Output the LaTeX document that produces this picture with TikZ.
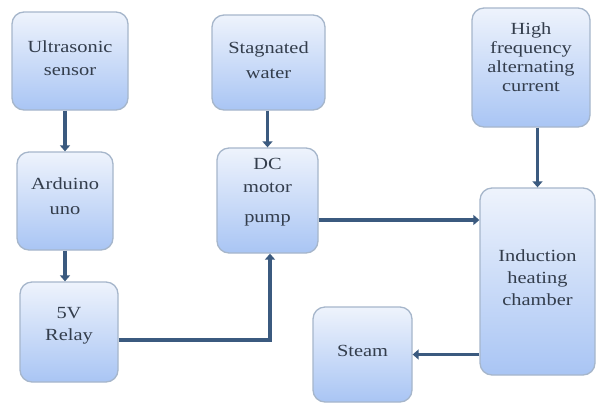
\documentclass[tikz,border=0pt]{standalone}
\usepackage{fontspec}
\setmainfont[FakeStretch=1.2]{Liberation Serif}
\usetikzlibrary{arrows.meta,calc}
\definecolor{boxtop}{HTML}{EEF3FC}
\definecolor{boxbot}{HTML}{A9C5F4}
\definecolor{boxline}{HTML}{A6B6CB}
\definecolor{arr}{HTML}{3B5A7F}
\definecolor{txt}{HTML}{333D4C}
\begin{document}
\begin{tikzpicture}[x=1pt,y=-1pt,
  blk/.style={draw=boxline, line width=1.3pt, rounded corners=12pt,
    top color=boxtop, bottom color=boxbot, inner sep=0pt},
  lbl/.style={align=center, text=txt, inner sep=0pt, font=\fontsize{17}{23}\selectfont},
  conn/.style={draw=arr, line width=3.6pt, -{Triangle[width=10pt,length=6pt]}}]
\useasboundingbox (0,0) rectangle (596,408);
\fill[white] (0,0) rectangle (596,408);
\node[blk, minimum width=116pt, minimum height=98pt] (sensor) at (70,61) {};
\node[blk, minimum width=96pt, minimum height=98pt] (arduino) at (65,201) {};
\node[blk, minimum width=98pt, minimum height=100pt] (relay) at (69,332) {};
\node[blk, minimum width=113pt, minimum height=95pt] (water) at (268.5,62.5) {};
\node[blk, minimum width=101pt, minimum height=105pt] (pump) at (267.5,200.5) {};
\node[blk, minimum width=118pt, minimum height=119pt] (hf) at (531,67.5) {};
\node[blk, minimum width=115pt, minimum height=187pt] (ind) at (537.5,281.5) {};
\node[blk, minimum width=99pt, minimum height=95pt] (steam) at (362.5,354.5) {};
\node[lbl] (sensor-t) at ($(sensor.center)+(0,-3)$) {Ultrasonic\\sensor};
\node[lbl, font=\fontsize{17}{25}\selectfont] (arduino-t) at ($(arduino.center)+(0,-5)$) {Arduino\\uno};
\node[lbl, font=\fontsize{17}{22}\selectfont] (relay-t) at ($(relay.center)+(0,-6)$) {5V\\Relay};
\node[lbl, font=\fontsize{17}{25}\selectfont] (water-t) at ($(water.center)+(0,-2)$) {Stagnated\\water};
\node[lbl] (pump-t) at ($(pump.center)+(0,-8)$) {DC\\motor\\[7pt]pump};
\node[lbl, font=\fontsize{17}{19}\selectfont] (hf-t) at ($(hf.center)+(0,-10)$) {High\\frequency\\alternating\\current};
\node[lbl, font=\fontsize{17}{22}\selectfont] (ind-t) at ($(ind.center)+(0,-4)$) {Induction\\heating\\chamber};
\node[lbl] (steam-t) at ($(steam.center)+(0,-4)$) {Steam};
\draw[conn] (sensor.south -| arduino.north) -- (arduino.north);
\draw[conn] (arduino.south) -- (arduino.south |- relay.north);
\draw[conn] (water.south -| pump.north) -- (pump.north);
\coordinate (rp) at ($(relay.east)+(0,8)$);
\coordinate (pb) at ($(pump.south)+(2.5,0)$);
\draw[conn] (rp) -| (pb);
\coordinate (pe) at ($(pump.east)+(0,19.5)$);
\draw[conn] (pe) -- (pe -| ind.west);
\draw[conn] (hf.south -| ind.north) -- (ind.north);
\draw[conn] (ind.west |- steam.east) -- (steam.east);
\end{tikzpicture}
\end{document}
